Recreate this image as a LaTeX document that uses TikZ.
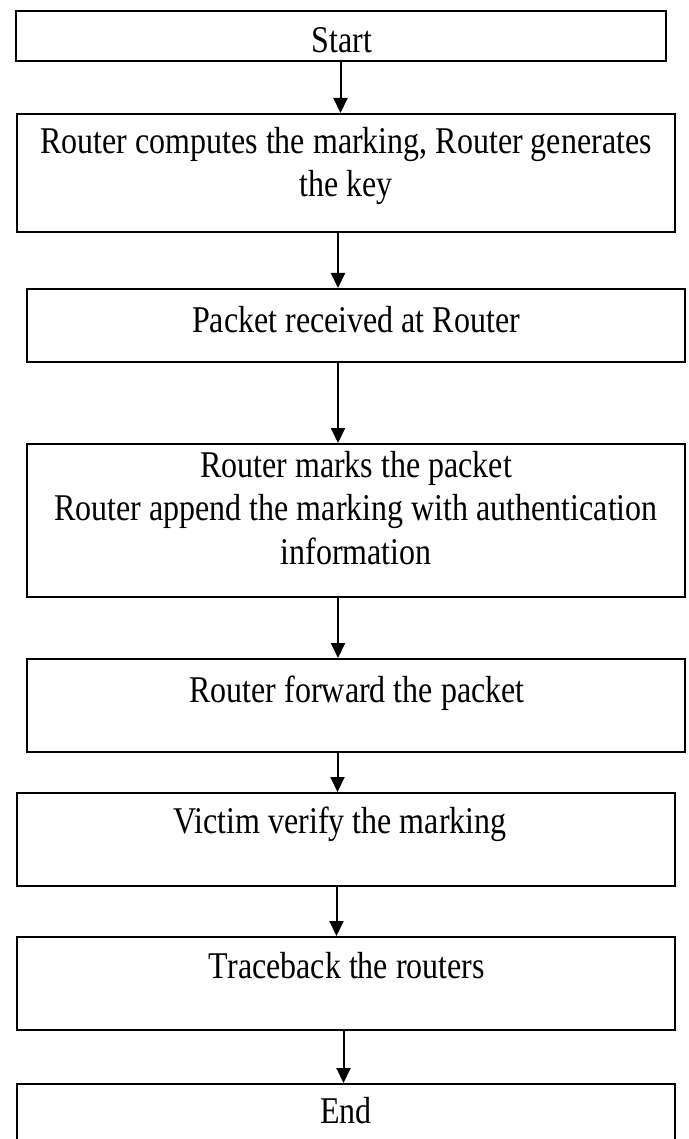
\documentclass[tikz,border=0pt]{standalone}
\usepackage{graphicx}
\usepackage{fontspec}
\setmainfont{Liberation Serif}
\usetikzlibrary{arrows.meta}
\usetikzlibrary{positioning}

\newcommand{\steplines}[1]{\scalebox{1}[1.18]{\begin{tabular}[b]{@{}c@{}}#1\end{tabular}}}

\tikzset{
  procbox/.style={draw, line width=2, inner sep=0},
  steptext/.style={anchor=base, inner sep=0, font=\fontsize{32}{36.5}\selectfont},
  flow/.style={line width=2, -{Triangle[length=15pt, width=14pt]}}
}

\begin{document}
\begin{tikzpicture}[x=1pt,y=1pt,yscale=-1,xscale=1]
\useasboundingbox (0,0) rectangle (688,1139);

%Flowchart: Process
\node[procbox, minimum width=650, minimum height=50] (start) at (341,36) {};
\node[procbox, minimum width=658, minimum height=118] (compute) at (346,173) {};
\node[procbox, minimum width=658, minimum height=73] (receive) at (356,325.5) {};
\node[procbox, minimum width=658, minimum height=153] (mark) at (356,520.5) {};
\node[procbox, minimum width=658, minimum height=93] (forward) at (356,705.5) {};
\node[procbox, minimum width=658, minimum height=93] (verify) at (346,839.5) {};
\node[procbox, minimum width=658, minimum height=93] (trace) at (346,983.5) {};
\node[procbox, minimum width=658, minimum height=62] (finish) at (346,1115) {};

% Text Node
\node[steptext] (tstart) at (342,53) {\steplines{Start}};
% Text Node
\node[steptext] (tcompute) at (346,197) {\steplines{Router computes the marking, Router generates\\the key}};
% Text Node
\node[steptext] (treceive) at (356,332) {\steplines{Packet received at Router}};
% Text Node
\node[steptext] (tmark) at (356,564) {\steplines{Router marks the packet\\Router append the marking with authentication\\information}};
% Text Node
\node[steptext] (tforward) at (357,702) {\steplines{Router forward the packet}};
% Text Node
\node[steptext] (tverify) at (340,833) {\steplines{Victim verify the marking}};
% Text Node
\node[steptext] (ttrace) at (347,978) {\steplines{Traceback the routers}};
% Text Node
\node[steptext] (tfinish) at (346,1123) {\steplines{End}};

%Straight Lines
\draw[flow] ([xshift=-0.5]start.south) -- ([xshift=-0.5]start.south |- compute.north);
\draw[flow] ([xshift=-8]compute.south) -- ([xshift=-8]compute.south |- receive.north);
\draw[flow] ([xshift=-18]receive.south) -- ([xshift=-18]receive.south |- mark.north);
\draw[flow] ([xshift=-18]mark.south) -- ([xshift=-18]mark.south |- forward.north);
\draw[flow] ([xshift=-18.5]forward.south) -- ([xshift=-18.5]forward.south |- verify.north);
\draw[flow] ([xshift=-9.5]verify.south) -- ([xshift=-9.5]verify.south |- trace.north);
\draw[flow] ([xshift=-2.5]trace.south) -- ([xshift=-2.5]trace.south |- finish.north);

\end{tikzpicture}
\end{document}
